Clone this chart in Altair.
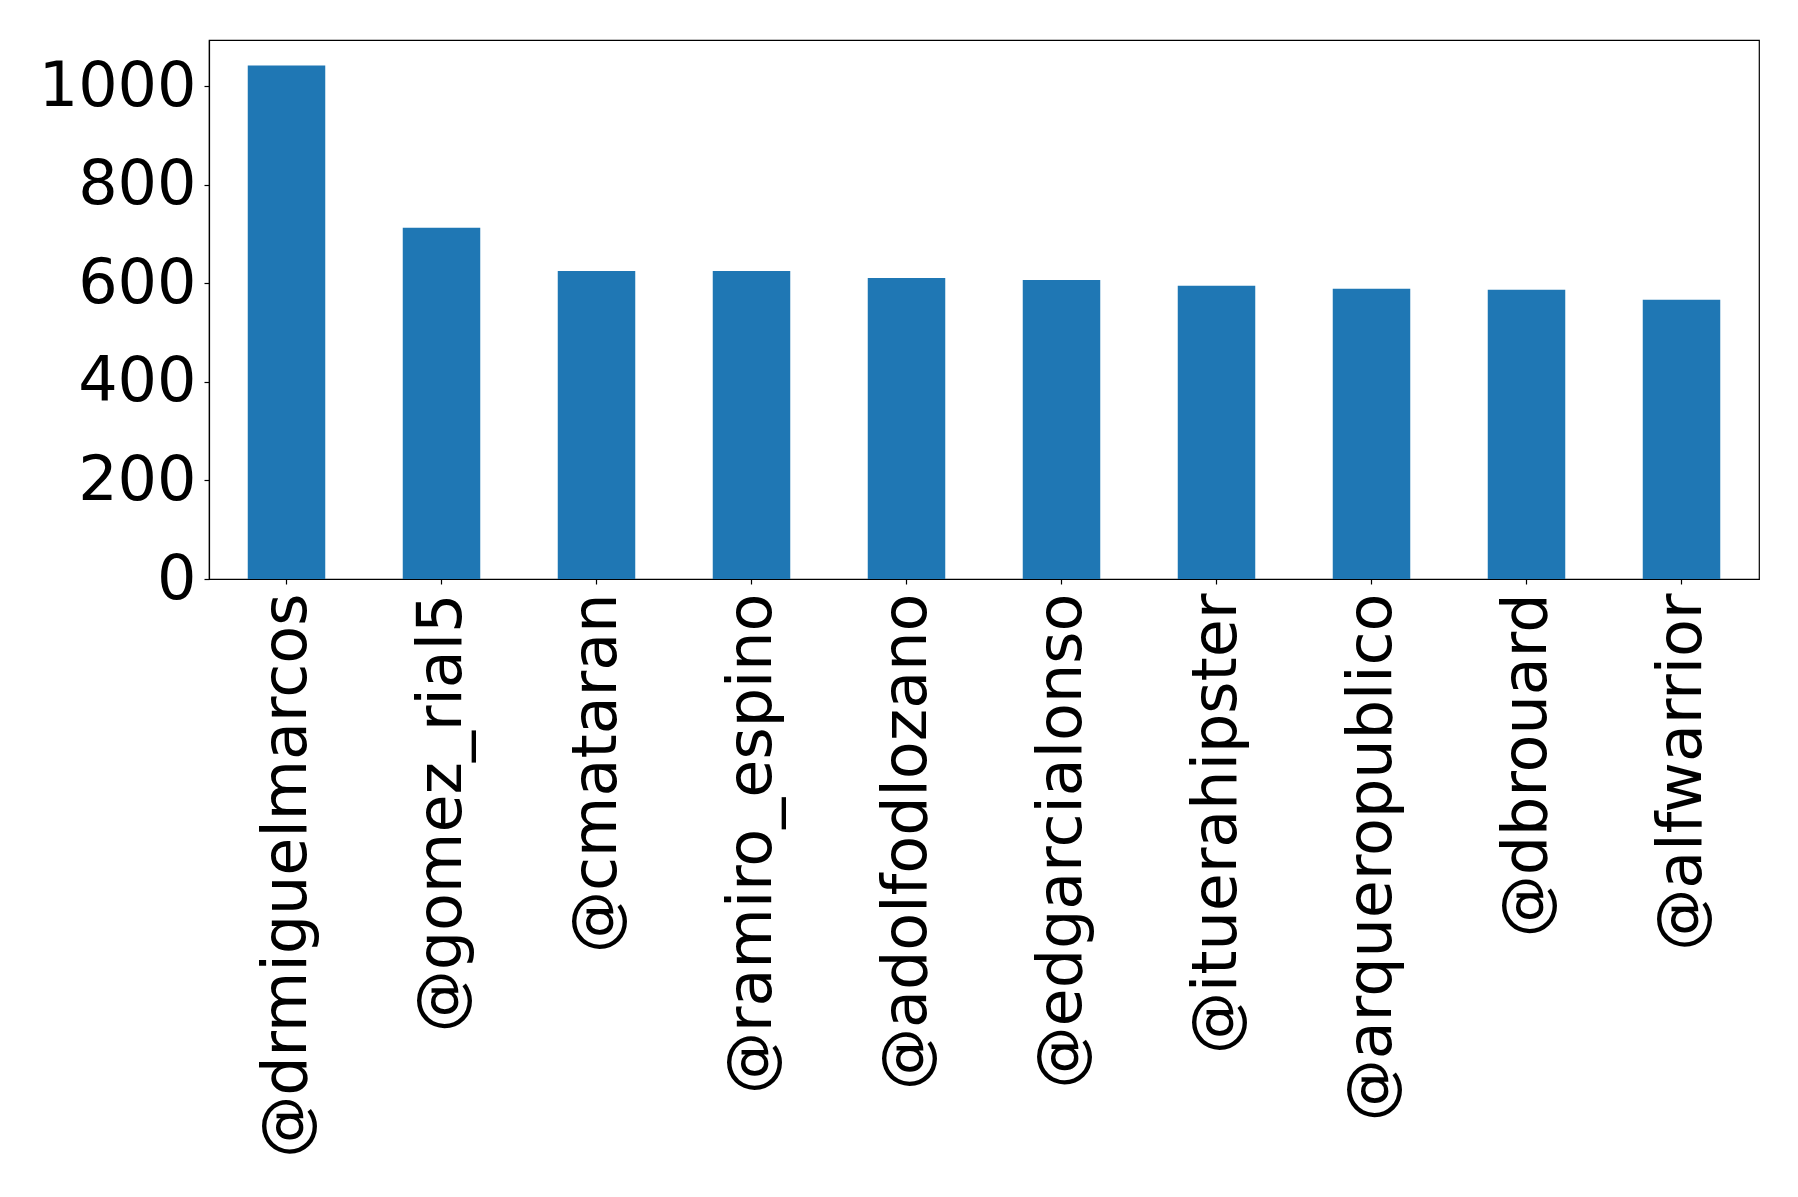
import altair as alt
import pandas as pd

users = ["@drmiguelmarcos", "@gomez_rial5", "@cmataran", "@ramiro_espino", "@adolfodlozano",
         "@edgarcialonso", "@ituerahipster", "@arqueropublico", "@dbrouard", "@alfwarrior"]
counts = [1042, 713, 625, 625, 611, 607, 595, 589, 587, 567]
y_ticks = [0, 200, 400, 600, 800, 1000]

df = pd.DataFrame({"user": users, "count": counts})

FONT = "DejaVu Sans"

chart = alt.Chart(df).mark_bar(color="#1f77b4").encode(
    x=alt.X("user:N", sort=users, title=None,
            scale=alt.Scale(paddingInner=0.5, paddingOuter=0.25),
            axis=alt.Axis(labelAngle=270, labelFontSize=62, labelFont=FONT, labelColor="black",
                          tickColor="black", tickSize=5, labelPadding=9, domainColor="black",
                          labelLimit=0, labelOverlap=False)),
    y=alt.Y("count:Q", title=None,
            scale=alt.Scale(domain=[0, 1094], nice=False, zero=True),
            axis=alt.Axis(values=y_ticks, format="d", labelFontSize=62, labelFont=FONT,
                          labelColor="black", tickColor="black", tickSize=5, labelPadding=8,
                          domainColor="black", grid=False, minExtent=190, maxExtent=190)),
).properties(
    width=1550, height=539,
    padding={"left": 11, "top": 32, "right": 5, "bottom": 5},
).configure_view(stroke="black", strokeWidth=1.2).configure_axis(domainWidth=1.2, tickWidth=1.2)

chart.save("out.html", embed_options={"renderer": "svg", "actions": False})
